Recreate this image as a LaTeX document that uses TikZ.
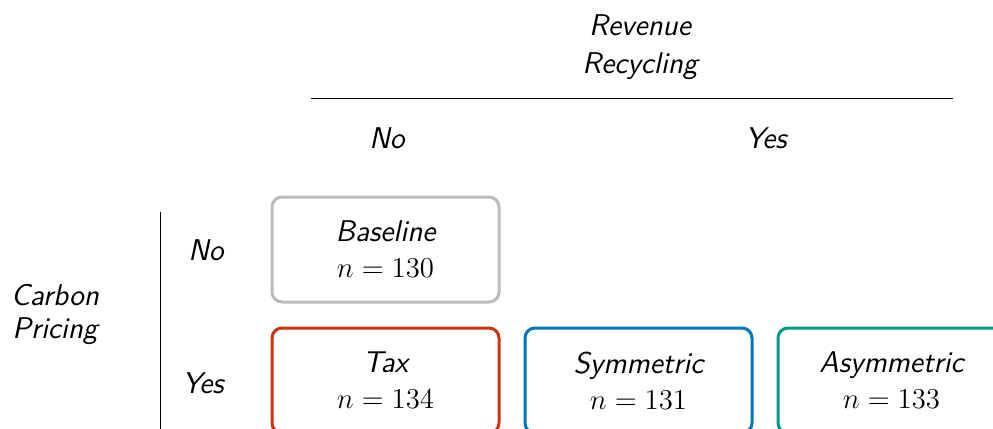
\documentclass[tikz,border=0pt]{standalone}
\usepackage{fontspec}
\definecolor{cgray}{HTML}{BBBBBB}
\definecolor{cred}{HTML}{CC3311}
\definecolor{cblue}{HTML}{0077BB}
\definecolor{cteal}{HTML}{009988}
\begin{document}
\begin{tikzpicture}[x=0.5pt,y=-0.5pt,
  every node/.style={font=\fontsize{15}{18}\selectfont\sffamily\itshape},
  cell/.style={draw, line width=1.5pt, rounded corners=5pt, minimum width=113.5pt, minimum height=52.5pt, align=center, fill=white},
  lbl/.style={align=center},
  rule/.style={line width=0.5pt}]
\useasboundingbox (0,0) rectangle (993,429);
\clip (0,0) rectangle (993,429);
% column header
\node[lbl] (rr) at (640,47) {Revenue\\[1pt]Recycling};
\coordinate (hl) at (311,98);
\coordinate (hr) at (953,98);
\draw[rule] (hl) -- (hr);
\node (cno) at (387,138) {No};
\node (cyes) at (766,138) {Yes};
% row header
\node[lbl] (cp) at (55,314) {Carbon\\[-1.5pt]Pricing};
\coordinate (vt) at (160,212);
\coordinate (vb) at (160,440);
\draw[rule] (vt) -- (vb);
\node (rno) at (206,250) {No};
\node (ryes) at (203,383) {Yes};
% cells
\node[cell, draw=cgray] (base) at (385.5,249.5) {\raisebox{-1pt}{Baseline}\\[1pt]$n = 130$};
\node[cell, draw=cred] (tax) at (385.5,380.5) {\raisebox{-1pt}{Tax}\\[1pt]$n = 134$};
\node[cell, draw=cblue] (sym) at (638.5,380.5) {\raisebox{-1pt}{Symmetric}\\[1pt]$n = 131$};
\node[cell, draw=cteal] (asym) at (891.5,380.5) {\raisebox{-1pt}{Asymmetric}\\[1pt]$n = 133$};
\end{tikzpicture}
\end{document}
